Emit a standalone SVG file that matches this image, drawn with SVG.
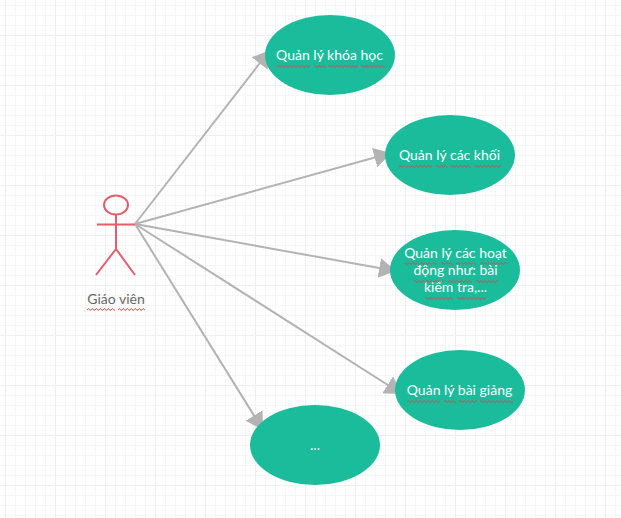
<svg xmlns="http://www.w3.org/2000/svg" width="621" height="518" viewBox="0 0 621 518">
<style>
.u{fill:#1abc9c}
.t{font-family:Lato,"Open Sans",sans-serif;font-size:14px;fill:#fff;text-anchor:middle}
.l{font-family:Lato,"Open Sans",sans-serif;font-size:14px;fill:#666;text-anchor:middle}
.c{stroke:#b3b3b3;stroke-width:2;fill:none;marker-end:url(#a)}
.s{stroke:#e85d6c;stroke-width:2;fill:none}
.w{fill:url(#z);height:3px}
</style>
<defs>
<pattern id="g" width="50" height="50" patternUnits="userSpaceOnUse" x="5" y="35">
<path d="M10 0V50M20 0V50M30 0V50M40 0V50M0 10H50M0 20H50M0 30H50M0 40H50" fill="none" stroke="#f6f6f6" stroke-width="1" transform="translate(.5 .5)"/>
<path d="M0 0V50M0 0H50" fill="none" stroke="#efefef" stroke-width="1" transform="translate(.5 .5)"/>
</pattern>
<pattern id="z" width="4" height="3" patternUnits="userSpaceOnUse"><path d="M-1 2.500L1.500 0.500L3 2.500L5.500 0.500" fill="none" stroke="#c8504c" stroke-width="1"/></pattern>
<marker id="a" markerUnits="userSpaceOnUse" markerWidth="22" markerHeight="22" refX="17" refY="11" orient="auto"><path d="M0 1L17 11L0 21Z" fill="#b3b3b3"/></marker>
</defs>
<rect width="621" height="518" fill="#fff"/>
<rect width="621" height="518" fill="url(#g)"/>
<g id="connectors">
<path class="c" d="M135 224L270 50"/>
<path class="c" d="M135 224L391 153"/>
<path class="c" d="M135 224L396 271"/>
<path class="c" d="M135 224L402 394"/>
<path class="c" d="M135 224L263 430"/>
</g>
<g id="actor">
<ellipse class="s" cx="116" cy="205" rx="12" ry="9.500"/>
<path class="s" d="M116 215V249M97 224.500H135M116 249L96 275M116 249L135 275"/>
<text class="l" x="116" y="304">Giáo viên</text>
<rect class="w" transform="translate(87 308)" width="28"/><rect class="w" transform="translate(118 308)" width="27"/>
</g>
<g id="n1"><ellipse class="u" cx="330" cy="55" rx="65" ry="40"/><text class="t" x="329.500" y="60">Quản lý khóa học</text><rect class="w" transform="translate(277 65)" width="33"/><rect class="w" transform="translate(314 65)" width="12"/><rect class="w" transform="translate(328 65)" width="30"/><rect class="w" transform="translate(361 65)" width="24"/></g>
<g id="n2"><ellipse class="u" cx="450" cy="155" rx="65" ry="40"/><text class="t" x="449.500" y="160">Quản lý các khối</text><rect class="w" transform="translate(399 165)" width="33"/><rect class="w" transform="translate(436 165)" width="12"/><rect class="w" transform="translate(451 165)" width="20"/><rect class="w" transform="translate(475 165)" width="26"/></g>
<g id="n3"><ellipse class="u" cx="455" cy="270" rx="65" ry="40"/><text class="t" x="455.500" y="258">Quản lý các hoạt</text><text class="t" x="455.500" y="275">động như: bài</text><text class="t" x="455.500" y="292">kiểm tra,...</text><rect class="w" transform="translate(404 262)" width="33"/><rect class="w" transform="translate(441 262)" width="12"/><rect class="w" transform="translate(456 262)" width="20"/><rect class="w" transform="translate(480 262)" width="27"/><rect class="w" transform="translate(414 280)" width="30"/><rect class="w" transform="translate(448 280)" width="24"/><rect class="w" transform="translate(476 280)" width="22"/><rect class="w" transform="translate(425 297)" width="28"/><rect class="w" transform="translate(457 297)" width="29"/></g>
<g id="n4"><ellipse class="u" cx="460" cy="390" rx="65" ry="40"/><text class="t" x="459.500" y="395">Quản lý bài giảng</text><rect class="w" transform="translate(407 400)" width="33"/><rect class="w" transform="translate(444 400)" width="12"/><rect class="w" transform="translate(459 400)" width="18"/><rect class="w" transform="translate(480 400)" width="33"/></g>
<g id="n5"><ellipse class="u" cx="315" cy="445" rx="65" ry="40"/><text class="t" x="315" y="450">...</text></g>
</svg>
